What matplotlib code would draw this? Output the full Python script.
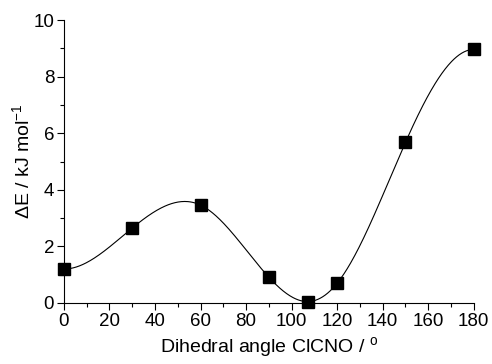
import numpy as np
import matplotlib
matplotlib.use("Agg")
import matplotlib.pyplot as plt
from matplotlib.ticker import MultipleLocator

plt.rcParams['font.family'] = ['Liberation Sans', 'DejaVu Sans']
plt.rcParams['mathtext.fontset'] = 'custom'
plt.rcParams['mathtext.rm'] = 'Liberation Sans'
plt.rcParams['mathtext.it'] = 'Liberation Sans:italic'

angle = [0, 30, 60, 90, 107, 120, 150, 180]
energy = [1.2, 2.65, 3.46, 0.91, 0.05, 0.7, 5.68, 8.96]


def clamped_spline(x, y, xs, d0=0.0, dn=0.0):
    x = np.asarray(x, float); y = np.asarray(y, float)
    n = len(x)
    h = np.diff(x)
    A = np.zeros((n, n)); b = np.zeros(n)
    A[0, 0] = 2 * h[0]; A[0, 1] = h[0]
    b[0] = 6 * ((y[1] - y[0]) / h[0] - d0)
    A[-1, -2] = h[-1]; A[-1, -1] = 2 * h[-1]
    b[-1] = 6 * (dn - (y[-1] - y[-2]) / h[-1])
    for i in range(1, n - 1):
        A[i, i - 1] = h[i - 1]; A[i, i] = 2 * (h[i - 1] + h[i]); A[i, i + 1] = h[i]
        b[i] = 6 * ((y[i + 1] - y[i]) / h[i] - (y[i] - y[i - 1]) / h[i - 1])
    M = np.linalg.solve(A, b)
    idx = np.clip(np.searchsorted(x, xs) - 1, 0, n - 2)
    x0 = x[idx]; x1 = x[idx + 1]; hh = x1 - x0
    t0 = x1 - xs; t1 = xs - x0
    return (M[idx] * t0**3 / (6 * hh) + M[idx + 1] * t1**3 / (6 * hh)
            + (y[idx] / hh - M[idx] * hh / 6) * t0 + (y[idx + 1] / hh - M[idx + 1] * hh / 6) * t1)


fig = plt.figure(figsize=(4.92, 3.64), dpi=100)
ax = fig.add_axes([0.130, 0.1676, 0.833, 0.7774])

xs = np.linspace(angle[0], angle[-1], 500)
ax.plot(xs, clamped_spline(angle, energy, xs), color='black', lw=0.8)
ax.plot(angle, energy, 's', color='black', ms=8.5, clip_on=False, zorder=3)

ax.set_xlim(0, 180)
ax.set_ylim(0, 10)
ax.xaxis.set_major_locator(MultipleLocator(20))
ax.xaxis.set_minor_locator(MultipleLocator(10))
ax.yaxis.set_major_locator(MultipleLocator(2))
ax.yaxis.set_minor_locator(MultipleLocator(1))
for s in ['top', 'right']:
    ax.spines[s].set_visible(False)
for s in ['left', 'bottom']:
    ax.spines[s].set_linewidth(0.8)
ax.tick_params(which='major', direction='out', length=5, width=0.8, labelsize=13.5, pad=2)
ax.tick_params(which='minor', direction='out', length=3, width=0.8)

ax.set_xlabel('Dihedral angle ClCNO / $^{\\mathrm{o}}$', fontsize=14, labelpad=4)
ax.set_ylabel('ΔE / kJ mol$^{-1}$', fontsize=14, labelpad=0)

fig.savefig('out.png', dpi=100)
